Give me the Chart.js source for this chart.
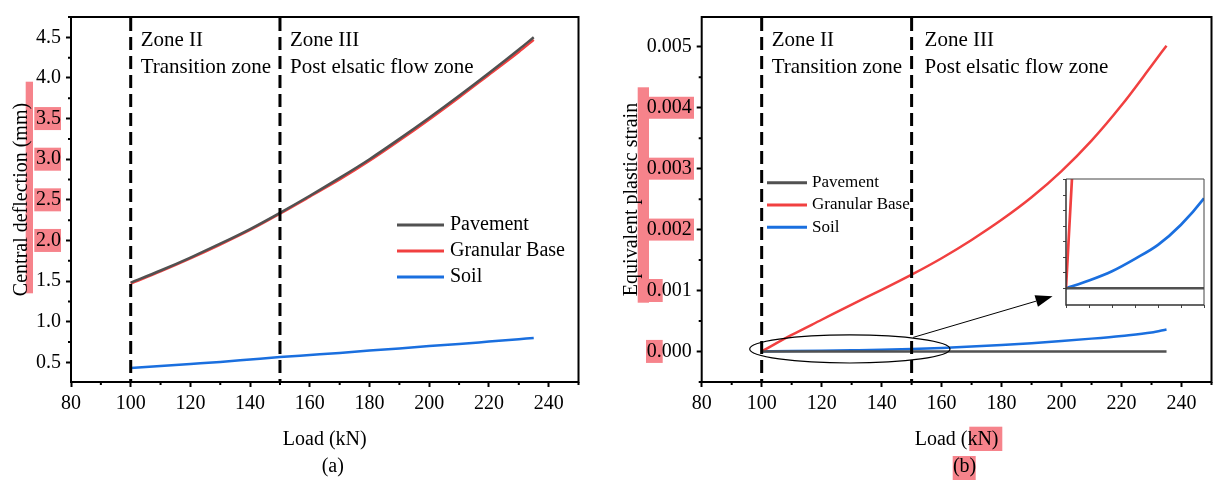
<!DOCTYPE html>
<html>
<head>
<meta charset="utf-8">
<script src="https://cdn.jsdelivr.net/npm/chart.js@4.4.0/dist/chart.umd.min.js"></script>
<style>
    body { margin: 0; background: #fff; width: 1218px; height: 482px; overflow: hidden; position: relative; }
    canvas { position: absolute; top: 0; }
    #chartA { left: 0; }
    #chartB { left: 600px; }
    #inset { left: 1056px; top: 175px; }
</style>
</head>
<body>
<canvas id="chartA" width="600" height="482"></canvas>
<canvas id="chartB" width="618" height="482"></canvas>
<canvas id="inset" width="154" height="138"></canvas>
<script>
// load steps (kN)
const loads = [100, 110, 120, 130, 140, 150, 160, 170, 180, 190, 200, 210, 220, 230, 235];

// (a) central deflection (mm)
const deflPavement = [1.48, 1.63, 1.79, 1.96, 2.14, 2.34, 2.55, 2.77, 3.00, 3.25, 3.51, 3.78, 4.06, 4.35, 4.50];
const deflGranular = [1.47, 1.62, 1.78, 1.95, 2.13, 2.33, 2.54, 2.75, 2.98, 3.23, 3.49, 3.76, 4.04, 4.32, 4.47];
const deflSoil = [0.43, 0.455, 0.48, 0.505, 0.535, 0.565, 0.59, 0.615, 0.645, 0.67, 0.70, 0.725, 0.755, 0.785, 0.80];

// (b) equivalent plastic strain
const strainPavement = [0, 0, 0, 0, 0, 0, 0, 0, 0, 0, 0, 0, 0, 0, 0];
const strainGranular = [0, 0.00027, 0.00052, 0.00077, 0.00101, 0.00126, 0.00153, 0.00183, 0.00216, 0.00253, 0.00296, 0.00346, 0.00404, 0.00469, 0.00502];
const strainSoil = [0, 0.000005, 0.000011, 0.000019, 0.000028, 0.000041, 0.000058, 0.00008, 0.000105, 0.000135, 0.00017, 0.00021, 0.000255, 0.00031, 0.00036];

const seriesNames = ['Pavement', 'Granular Base', 'Soil'];
const seriesColors = ['#515151', '#F14040', '#1A6FDF'];

const zoneBounds = [100, 150];
const zoneLabels = [['Zone II', 'Transition zone'], ['Zone III', 'Post elsatic flow zone']];

const xTickValues = { min: 80, max: 250, step: 20, minor: 10 };
const deflTicks = { min: 0.258, max: 4.75, step: 0.5, minor: 0.25 };
const strainTicks = { min: -0.000502, max: 0.00549, step: 0.001, minor: 0.0005 };
const insetRange = { xMin: 100, xMax: 160, xStep: 10, yMin: -0.0000108, yMax: 0.0000705, yStep: 0.00001 };

// zoomed region marked on (b) and the arrow pointing to the inset
const zoomEllipse = { x0: 96, x1: 162.8, y0: -0.00019, y1: 0.00027 };
const zoomArrow = { x0: 150.5, y0: 0.00023, x1: 197, y1: 0.000905 };

const FONT = "'Liberation Serif', 'Times New Roman', serif";
const PINK = '#f6838b';

const makeDatasets = (values, width) => values.map((v, i) => ({
    label: seriesNames[i],
    data: loads.map((x, j) => ({ x: x, y: v[j] })),
    borderColor: seriesColors[i],
    backgroundColor: seriesColors[i],
    borderWidth: width,
    pointRadius: 0,
    cubicInterpolationMode: 'monotone',
    fill: false
}));

const decorPlugin = {
    id: 'decor',
    beforeDraw(chart, args, opts) {
        const ctx = chart.ctx;
        const ys = chart.scales.y;
        ctx.save();
        ctx.fillStyle = '#fff';
        ctx.fillRect(0, 0, chart.width, chart.height);
        ctx.fillStyle = PINK;
        (opts.rects || []).forEach(r => ctx.fillRect(r[0], r[1], r[2], r[3]));
        (opts.tickMarks || []).forEach(m => {
            m.values.forEach(v => {
                const py = ys.getPixelForValue(v);
                ctx.fillRect(m.x0, py - m.h / 2, m.x1 - m.x0, m.h);
            });
        });
        ctx.restore();
    },
    afterDatasetsDraw(chart, args, opts) {
        const ctx = chart.ctx;
        const { left, right, top, bottom } = chart.chartArea;
        const xs = chart.scales.x;
        const ys = chart.scales.y;
        ctx.save();

        // zone boundaries
        ctx.strokeStyle = '#000';
        ctx.lineWidth = 3;
        ctx.setLineDash([13, 6]);
        zoneBounds.forEach(b => {
            const px = xs.getPixelForValue(b);
            ctx.beginPath();
            ctx.moveTo(px, top + 1);
            ctx.lineTo(px, bottom);
            ctx.stroke();
        });
        ctx.setLineDash([]);

        // frame
        ctx.lineWidth = 2;
        ctx.strokeRect(left, top, right - left, bottom - top);

        // minor ticks
        ctx.lineWidth = 2;
        ctx.beginPath();
        for (let v = Math.ceil(xs.min / opts.xMinor) * opts.xMinor; v <= xs.max; v += opts.xMinor) {
            if (Math.abs(v / opts.xMajor - Math.round(v / opts.xMajor)) < 1e-6) continue;
            const px = xs.getPixelForValue(v);
            ctx.moveTo(px, bottom);
            ctx.lineTo(px, bottom + 3);
        }
        for (let k = Math.ceil(ys.min / opts.yMinor); k * opts.yMinor <= ys.max; k++) {
            if (k % 2 === 0) continue;
            const py = ys.getPixelForValue(k * opts.yMinor);
            ctx.moveTo(left, py);
            ctx.lineTo(left - 3, py);
        }
        ctx.stroke();

        // zone labels
        ctx.fillStyle = '#000';
        ctx.font = '21px ' + FONT;
        ctx.textBaseline = 'middle';
        ctx.textAlign = 'left';
        zoneBounds.forEach((b, i) => {
            const px = xs.getPixelForValue(b) + opts.zoneOffset[i];
            ctx.fillText(zoneLabels[i][0], px, 40);
            ctx.fillText(zoneLabels[i][1], px, 67);
        });

        // legend
        const lg = opts.legend;
        ctx.font = lg.size + 'px ' + FONT;
        chart.data.datasets.forEach((ds, i) => {
            const y = lg.y + i * lg.row;
            ctx.strokeStyle = ds.borderColor;
            ctx.lineWidth = 3;
            ctx.beginPath();
            ctx.moveTo(lg.x, y);
            ctx.lineTo(lg.x + lg.len, y);
            ctx.stroke();
            ctx.fillText(ds.label, lg.x + lg.len + lg.gap, y);
        });

        // panel caption
        ctx.font = '20px ' + FONT;
        ctx.textAlign = 'center';
        ctx.fillText(opts.caption, (left + right) / 2 + 8, 467);

        // zoom ellipse + arrow
        if (opts.zoom) {
            const ex0 = xs.getPixelForValue(zoomEllipse.x0), ex1 = xs.getPixelForValue(zoomEllipse.x1);
            const ey0 = ys.getPixelForValue(zoomEllipse.y1), ey1 = ys.getPixelForValue(zoomEllipse.y0);
            ctx.strokeStyle = '#000';
            ctx.lineWidth = 1.2;
            ctx.beginPath();
            ctx.ellipse((ex0 + ex1) / 2, (ey0 + ey1) / 2, (ex1 - ex0) / 2, (ey1 - ey0) / 2, 0, 0, Math.PI * 2);
            ctx.stroke();

            const ax0 = xs.getPixelForValue(zoomArrow.x0), ay0 = ys.getPixelForValue(zoomArrow.y0);
            const ax1 = xs.getPixelForValue(zoomArrow.x1), ay1 = ys.getPixelForValue(zoomArrow.y1);
            const ang = Math.atan2(ay1 - ay0, ax1 - ax0);
            const headLen = 17, headW = 6;
            ctx.lineWidth = 1;
            ctx.beginPath();
            ctx.moveTo(ax0, ay0);
            ctx.lineTo(ax1 - headLen * Math.cos(ang), ay1 - headLen * Math.sin(ang));
            ctx.stroke();
            ctx.fillStyle = '#000';
            ctx.beginPath();
            ctx.moveTo(ax1, ay1);
            ctx.lineTo(ax1 - headLen * Math.cos(ang) - headW * Math.sin(ang), ay1 - headLen * Math.sin(ang) + headW * Math.cos(ang));
            ctx.lineTo(ax1 - headLen * Math.cos(ang) + headW * Math.sin(ang), ay1 - headLen * Math.sin(ang) - headW * Math.cos(ang));
            ctx.closePath();
            ctx.fill();
        }
        ctx.restore();
    }
};

const axisFont = { family: FONT, size: 20, weight: 'normal' };

const makeChart = (id, values, yTicks, cfg) => new Chart(document.getElementById(id), {
    type: 'line',
    data: { datasets: makeDatasets(values, 2.5) },
    plugins: [decorPlugin],
    options: {
        responsive: false,
        animation: false,
        layout: { padding: { left: 0, top: 11, right: cfg.padRight, bottom: 0 } },
        plugins: {
            legend: { display: false },
            tooltip: { enabled: false },
            decor: {
                xMinor: xTickValues.minor, xMajor: xTickValues.step,
                yMinor: yTicks.minor,
                zoneOffset: cfg.zoneOffset,
                legend: cfg.legend,
                caption: cfg.caption,
                zoom: cfg.zoom,
                rects: cfg.rects,
                tickMarks: cfg.tickMarks
            }
        },
        scales: {
            x: {
                type: 'linear',
                min: xTickValues.min,
                max: xTickValues.max,
                afterFit: s => { s.height = 100; },
                border: { display: false },
                grid: { drawOnChartArea: false, tickLength: 5, tickWidth: 2, tickColor: '#000' },
                ticks: { stepSize: xTickValues.step, includeBounds: false, padding: 5, color: '#000', font: axisFont, maxRotation: 0 },
                title: { display: true, text: 'Load (kN)', color: '#000', font: axisFont, padding: { top: 0, bottom: 30 } }
            },
            y: {
                type: 'linear',
                min: yTicks.min,
                max: yTicks.max,
                afterFit: s => { s.width = cfg.yWidth; },
                border: { display: false },
                grid: { drawOnChartArea: false, tickLength: 5, tickWidth: 2, tickColor: '#000' },
                ticks: {
                    stepSize: yTicks.step, includeBounds: false, padding: 5, color: '#000', font: axisFont,
                    callback: v => v.toFixed(cfg.decimals)
                },
                title: { display: true, text: cfg.yTitle, color: '#000', font: axisFont, padding: { top: cfg.yTitlePad, bottom: 0 } }
            }
        }
    }
});

makeChart('chartA', [deflPavement, deflGranular, deflSoil], deflTicks, {
    caption: '(a)',
    yTitle: 'Central deflection (mm)',
    yTitlePad: 10,
    yWidth: 71,
    padRight: 21.5,
    decimals: 1,
    zoneOffset: [10, 10],
    legend: { x: 397, y: 225, row: 26, len: 47, gap: 6, size: 20 },
    zoom: false,
    rects: [[25.7, 81.7, 7.3, 211.6]],
    tickMarks: [{ values: [3.5, 3.0, 2.5, 2.0], x0: 34.3, x1: 61, h: 23 }]
});

makeChart('chartB', [strainPavement, strainGranular, strainSoil], strainTicks, {
    caption: '(b)',
    yTitle: 'Equivalent plastic strain',
    yTitlePad: 20,
    yWidth: 101.7,
    padRight: 6.5,
    decimals: 3,
    zoneOffset: [10, 13],
    legend: { x: 167, y: 182.7, row: 22.3, len: 40, gap: 5, size: 17 },
    zoom: true,
    rects: [[37.7, 87.3, 11.3, 215.4], [369.3, 426.7, 33, 24.3], [352.7, 456, 23, 24]],
    tickMarks: [
        { values: [0.004, 0.003, 0.002], x0: 46, x1: 94, h: 22 },
        { values: [0.001, 0], x0: 46, x1: 62.7, h: 23 }
    ]
});

// inset: magnified start of (b)
const insetFrame = {
    id: 'insetFrame',
    beforeDatasetsDraw(chart) {
        const { left, right, top, bottom } = chart.chartArea;
        const ctx = chart.ctx;
        ctx.save();
        ctx.fillStyle = '#fff';
        ctx.fillRect(left, top, right - left, bottom - top);
        ctx.restore();
    },
    afterDraw(chart) {
        const { left, right, top, bottom } = chart.chartArea;
        const ctx = chart.ctx;
        ctx.save();
        ctx.strokeStyle = '#444';
        ctx.lineWidth = 1;
        ctx.beginPath();
        ctx.moveTo(left, top);
        ctx.lineTo(right, top);
        ctx.lineTo(right, bottom);
        ctx.stroke();
        ctx.lineWidth = 1.5;
        ctx.strokeStyle = '#333';
        ctx.beginPath();
        ctx.moveTo(left, top);
        ctx.lineTo(left, bottom);
        ctx.lineTo(right, bottom);
        ctx.stroke();
        ctx.restore();
    }
};

new Chart(document.getElementById('inset'), {
    type: 'line',
    data: { datasets: makeDatasets([strainPavement, strainGranular, strainSoil], 2.7) },
    plugins: [insetFrame],
    options: {
        responsive: false,
        animation: false,
        layout: { padding: { left: 0, top: 4, right: 6, bottom: 0 } },
        plugins: { legend: { display: false }, tooltip: { enabled: false } },
        scales: {
            x: {
                type: 'linear',
                min: insetRange.xMin,
                max: insetRange.xMax,
                afterFit: s => { s.height = 8; },
                border: { display: false },
                grid: { drawOnChartArea: false, tickLength: 3, tickWidth: 1, tickColor: '#444' },
                ticks: { display: false, stepSize: insetRange.xStep }
            },
            y: {
                type: 'linear',
                min: insetRange.yMin,
                max: insetRange.yMax,
                afterFit: s => { s.width = 10; },
                afterBuildTicks: s => { s.ticks = s.ticks.filter(t => t.value >= 0); },
                border: { display: false },
                grid: { drawOnChartArea: false, tickLength: 3, tickWidth: 1, tickColor: '#444' },
                ticks: { display: false, stepSize: insetRange.yStep, includeBounds: false }
            }
        }
    }
});
</script>
</body>
</html>
